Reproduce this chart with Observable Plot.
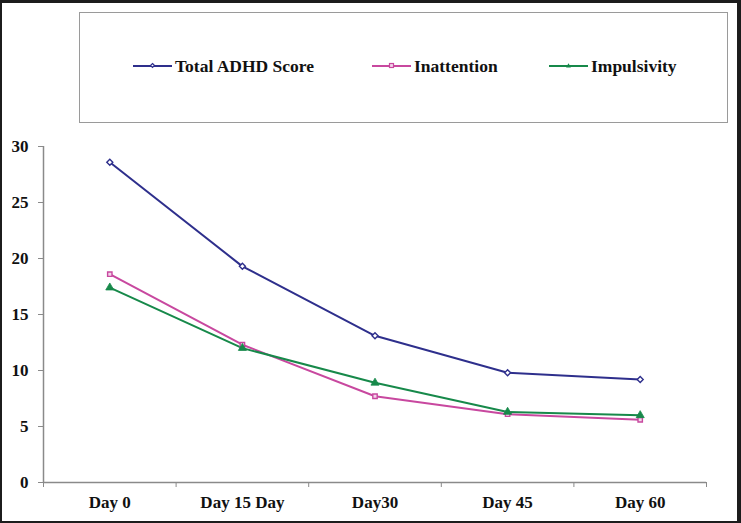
<!DOCTYPE html>
<html>
<head>
<meta charset="utf-8">
<script src="https://cdn.jsdelivr.net/npm/d3@7"></script>
<script src="https://cdn.jsdelivr.net/npm/@observablehq/plot@0.6"></script>
<style>
html, body { margin: 0; padding: 0; background: #fff; }
#wrap { position: relative; width: 741px; height: 523px; overflow: hidden; background: #fff;
  font-family: "Liberation Serif", "Times New Roman", serif; }
#chart { position: absolute; left: 0; top: 0; }
#legend { position: absolute; left: 79px; top: 12px; width: 649px; height: 111px; box-sizing: border-box;
  border: 1.5px solid #9a9a9a; background: #fff; }
.item { position: absolute; top: 43px; height: 20px; display: flex; align-items: center;
  font-weight: bold; font-size: 17.5px; color: #111; white-space: nowrap; }
.item svg { display: block; margin-right: 3px; }
#frame { position: absolute; left: 0; top: 0; width: 741px; height: 523px; box-sizing: border-box;
  border-style: solid; border-color: #1c1c1c; border-width: 3px 4px 2px 2px; pointer-events: none; }
</style>
</head>
<body>
<div id="wrap">
  <div id="chart"></div>
  <div id="legend"></div>
  <div id="frame"></div>
</div>
<script>
// ---- data ----
const categories = ["Day 0", "Day 15 Day", "Day30", "Day 45", "Day 60"];
const seriesNames = ["Total ADHD Score", "Inattention", "Impulsivity"];
const totalScore = [28.6, 19.3, 13.1, 9.8, 9.2];
const inattention = [18.6, 12.3, 7.7, 6.1, 5.6];
const impulsivity = [17.4, 12.0, 8.9, 6.3, 6.0];
const yTicks = [0, 5, 10, 15, 20, 25, 30];

const seriesColors = ["#2e2f8c", "#c8489f", "#17894a"];
const seriesValues = [totalScore, inattention, impulsivity];

const rows = [];
seriesNames.forEach((s, si) => {
  categories.forEach((c, ci) => {
    rows.push({series: s, category: c, xi: ci + 0.5, value: seriesValues[si][ci]});
  });
});
const bySeries = s => rows.filter(r => r.series === s);
const boundaries = d3.range(categories.length + 1);
const centers = categories.map((c, i) => i + 0.5);

const axisGray = "#8a8a8a";

const chart = Plot.plot({
  width: 741,
  height: 523,
  marginLeft: 43,
  marginRight: 35,
  marginTop: 146,
  marginBottom: 41,
  style: {fontFamily: "'Liberation Serif', 'Times New Roman', serif", background: "transparent"},
  x: {type: "linear", domain: [0, categories.length], axis: null},
  y: {domain: [0, 30], axis: null},
  color: {domain: seriesNames, range: seriesColors},
  marks: [
    Plot.ruleX([0], {y1: 0, y2: 30, stroke: axisGray, strokeWidth: 1.5}),
    Plot.ruleY([0], {stroke: axisGray, strokeWidth: 1.5}),
    Plot.axisY({ticks: yTicks, tickSize: 5, tickPadding: 10, stroke: axisGray, fill: "#111",
      fontSize: 17, fontWeight: "bold", label: null, tickFormat: d => String(d)}),
    Plot.axisX({ticks: boundaries, tickSize: 5, tickFormat: () => "", stroke: axisGray, label: null}),
    Plot.axisX({ticks: centers, tickSize: 0, tickPadding: 13, fill: "#111", fontSize: 17,
      fontWeight: "bold", label: null, tickFormat: d => categories[Math.round(d - 0.5)]}),
    Plot.line(rows, {x: "xi", y: "value", z: "series", stroke: "series", strokeWidth: 2}),
    Plot.dot(bySeries(seriesNames[0]), {x: "xi", y: "value", symbol: "diamond2", r: 2.7,
      stroke: seriesColors[0], fill: "#fff", strokeWidth: 1.4}),
    Plot.dot(bySeries(seriesNames[1]), {x: "xi", y: "value", symbol: "square2", r: 2.8,
      stroke: seriesColors[1], fill: "#f3d6ea", strokeWidth: 1.4}),
    Plot.dot(bySeries(seriesNames[2]), {x: "xi", y: "value", symbol: "triangle", r: 3,
      fill: seriesColors[2], stroke: seriesColors[2], strokeWidth: 0.8})
  ]
});
document.getElementById("chart").appendChild(chart);

// ---- legend ----
const legendLeft = [53, 292, 469]; // swatch positions inside the legend box
const markerShapes = ["diamond", "square", "triangle"];
const legend = document.getElementById("legend");
seriesNames.forEach((name, i) => {
  const item = document.createElement("div");
  item.className = "item";
  item.style.left = legendLeft[i] + "px";
  const col = seriesColors[i];
  let marker = "";
  if (markerShapes[i] === "diamond") {
    marker = `<path d="M19.5,7.5 L21.5,9.5 L19.5,11.5 L17.5,9.5 Z" fill="#fff" stroke="${col}" stroke-width="1.2"/>`;
  } else if (markerShapes[i] === "square") {
    marker = `<rect x="17.5" y="7.5" width="4" height="4" fill="#f3d6ea" stroke="${col}" stroke-width="1.2"/>`;
  } else {
    marker = `<path d="M19.5,7.2 L21.9,11.4 L17.1,11.4 Z" fill="${col}"/>`;
  }
  item.innerHTML = `<svg width="39" height="20" viewBox="0 0 39 20"><line x1="0" x2="39" y1="10" y2="10" stroke="${col}" stroke-width="2"/>${marker}</svg><span>${name}</span>`;
  legend.appendChild(item);
});
</script>
</body>
</html>
